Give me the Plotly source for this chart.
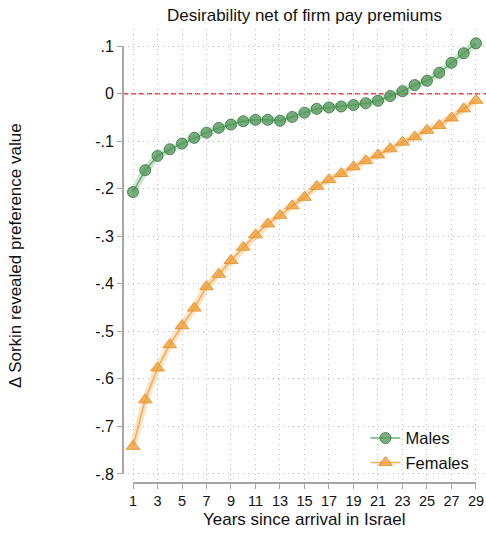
import plotly.graph_objects as go

years = list(range(1, 30))
males = [-0.207, -0.161, -0.131, -0.117, -0.105, -0.093, -0.082, -0.072, -0.065, -0.058,
         -0.055, -0.055, -0.057, -0.049, -0.040, -0.032, -0.029, -0.027, -0.024, -0.020,
         -0.015, -0.005, 0.005, 0.018, 0.027, 0.044, 0.065, 0.085, 0.106]
females = [-0.742, -0.644, -0.577, -0.528, -0.488, -0.451, -0.406, -0.380, -0.351, -0.323,
           -0.297, -0.274, -0.256, -0.236, -0.218, -0.195, -0.181, -0.168, -0.154, -0.141,
           -0.129, -0.116, -0.102, -0.091, -0.077, -0.067, -0.051, -0.032, -0.014]
xtick_vals = list(range(1, 30, 2))
ytick_vals = [0.1, 0, -0.1, -0.2, -0.3, -0.4, -0.5, -0.6, -0.7, -0.8]
ytick_text = [".1", "0", "-.1", "-.2", "-.3", "-.4", "-.5", "-.6", "-.7", "-.8"]

FONT = "Liberation Sans, Arial, Helvetica, sans-serif"
TXT = "#111111"

fig = go.Figure()
# light bands (narrow CI look)
fig.add_trace(go.Scatter(x=years, y=males, mode="lines", showlegend=False, hoverinfo="skip",
                         line=dict(color="rgba(120,180,125,0.35)", width=7)))
fig.add_trace(go.Scatter(x=years, y=females, mode="lines", showlegend=False, hoverinfo="skip",
                         line=dict(color="rgba(245,175,90,0.35)", width=7)))
fig.add_trace(go.Scatter(x=years, y=males, mode="lines+markers", name="Males",
                         line=dict(color="rgba(90,160,100,0.85)", width=1.5),
                         marker=dict(symbol="circle", size=11, color="rgba(80,150,88,0.75)",
                                     line=dict(color="rgba(60,125,70,0.9)", width=1))))
fig.add_trace(go.Scatter(x=years, y=females, mode="lines+markers", name="Females",
                         line=dict(color="rgba(242,165,70,0.9)", width=1.5),
                         marker=dict(symbol="triangle-up", size=12, color="rgba(240,160,60,0.8)",
                                     line=dict(color="rgba(230,145,45,0.9)", width=1))))

AXC = "#a6a6a6"
GRID = "#bdbdbd"
fig.update_layout(
    width=486, height=533,
    margin=dict(l=123, r=0, t=29, b=50),
    paper_bgcolor="white", plot_bgcolor="white",
    font=dict(family=FONT, size=14, color=TXT),
    showlegend=True,
    legend=dict(x=0.668, y=0.137, xanchor="left", yanchor="top", bgcolor="rgba(0,0,0,0)",
                font=dict(size=16.5, family=FONT, color=TXT), tracegroupgap=0),
    title=dict(text="Desirability net of firm pay premiums", x=0.5, xref="paper", xanchor="center",
               y=1 - 15 / 533, yref="container", yanchor="middle",
               font=dict(size=17, family=FONT, color=TXT)),
    xaxis=dict(range=[0.183, 29.82], tickvals=xtick_vals, ticks="outside", ticklen=5,
               tickcolor=AXC, tickwidth=1, showline=False, zeroline=False,
               showgrid=True, gridcolor=GRID, griddash="1px,4px", gridwidth=1,
               tickfont=dict(size=14.5, family=FONT, color=TXT)),
    yaxis=dict(range=[-0.819, 0.136], tickvals=ytick_vals, ticktext=ytick_text, ticks="outside",
               ticklen=5, tickcolor=AXC, tickwidth=1, showline=False, zeroline=False,
               showgrid=True, gridcolor=GRID, griddash="1px,4px", gridwidth=1,
               tickfont=dict(size=16, family=FONT, color=TXT)),
    shapes=[
        dict(type="line", xref="paper", yref="y", x0=0, x1=0, y0=ytick_vals[-1], y1=ytick_vals[0],
             line=dict(color=AXC, width=2)),
        dict(type="line", xref="x", yref="paper", x0=xtick_vals[0], x1=xtick_vals[-1], y0=0, y1=0,
             line=dict(color=AXC, width=2)),
        dict(type="line", xref="paper", yref="y", x0=0, x1=1, y0=0, y1=0,
             line=dict(color="#f03c3c", width=1.5, dash="5px,3px"), layer="below"),
    ],
    annotations=[
        dict(text="Δ Sorkin revealed preference value", xref="paper", yref="paper",
             x=(15 - 123) / 363, y=0.5, xanchor="center", yanchor="middle", textangle=-90,
             showarrow=False, font=dict(size=17, family=FONT, color=TXT)),
        dict(text="Years since arrival in Israel", xref="paper", yref="paper",
             x=0.5, y=(483 - 519) / 454, xanchor="center", yanchor="middle",
             showarrow=False, font=dict(size=17, family=FONT, color=TXT)),
    ],
)
fig.write_html("out.html")
